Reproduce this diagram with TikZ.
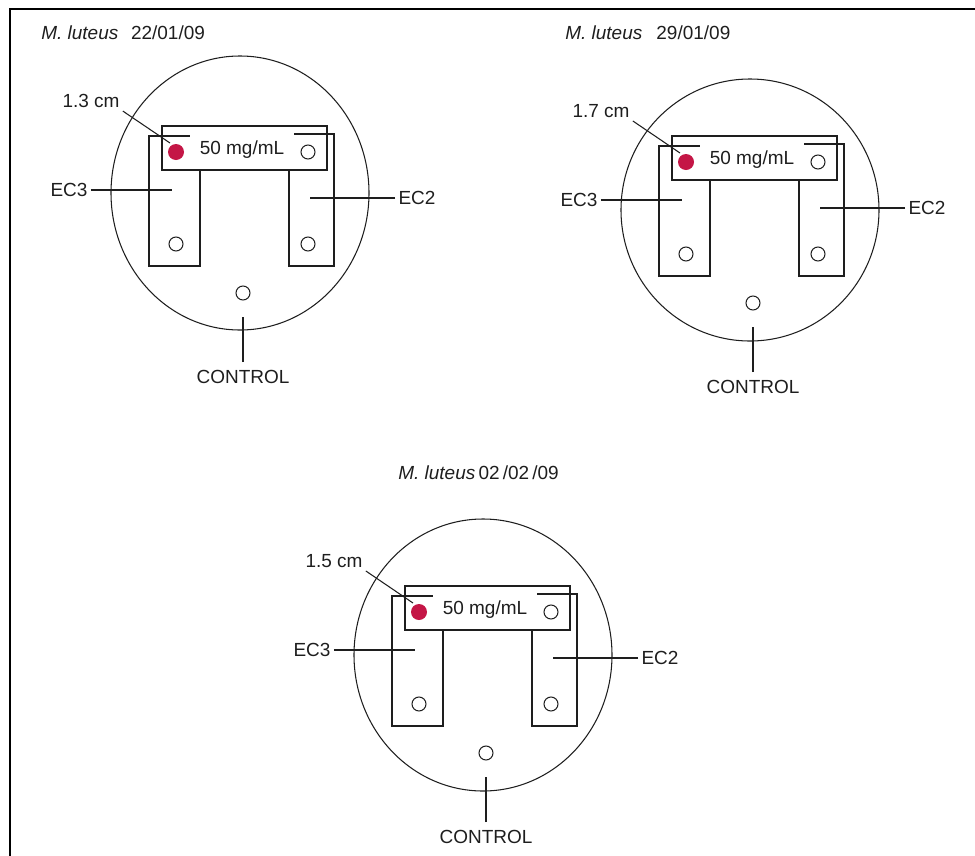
\documentclass[tikz,border=0pt]{standalone}
\usepackage{fontspec}
\setmainfont{Liberation Sans}
\usetikzlibrary{positioning,calc}
\definecolor{dotred}{RGB}{196, 22, 70}
\definecolor{inkgray}{RGB}{30, 30, 30}

\begin{document}
\begin{tikzpicture}[x=0.025cm, y=-0.025cm, line width=0.75pt, draw=inkgray,
    lbl/.style={text=inkgray, font=\fontsize{13.5}{16}\selectfont, inner sep=2pt},
    conc/.style={lbl, fill=white, minimum width=73.7pt, minimum height=28pt, inner sep=0pt}]
    \useasboundingbox (0,0) rectangle (975,856);
    \draw[line width=1.5pt, black] (10,856) -- (10,9) -- (975,9);
    % titles
    \node[lbl, anchor=west] (title1) at (38,33) {\textit{M. luteus}\hspace{9pt}22/01/09};
    \node[lbl, anchor=west] (title2) at (562,33) {\textit{M. luteus}\hspace{10pt}29/01/09};
    \node[lbl, anchor=west] (title3) at (395,473) {\textit{M. luteus}\,02\,/02\,/09};
    % plates: bar corner / circle centre y / circle y radius / zone
    \foreach \bx/\by/\cy/\ry/\zone in {162/126/67/137/1.3, 672/136/74/131/1.7, 405/586/69/136/1.5}{
        \begin{scope}[shift={(\bx,\by)}]
            \draw (-13,10) rectangle (38,140);
            \draw (127,8) rectangle (172,140);
            \node[conc] (conc) at (80,24) {50 mg/mL};
            \draw (0,0) rectangle (165,44);
            \fill[dotred] (14,26) circle[radius=8];
            \draw (146,26) circle[radius=7];
            \draw (14,118) circle[radius=7];
            \draw (146,118) circle[radius=7];
            \draw (81,167) circle[radius=7];
            \draw (78,\cy) ellipse[x radius=129, y radius=\ry];
            % labels
            \node[lbl] (zone) at (-71,-25) {\zone\ cm};
            \node[lbl] (ec3) at (-93,64) {EC3};
            \node[lbl] (ec2) at (255,72) {EC2};
            \node[lbl, inner ysep=5.5pt] (control) at (81,251) {CONTROL};
            \coordinate (zonept) at (8,17);
            \coordinate (ec3pt) at (10,64);
            \coordinate (ec2pt) at (148,72);
            \coordinate (ctlpt) at (81,191);
            \draw (zone.south east) -- (zonept);
            \draw (ec3.east) -- (ec3pt);
            \draw (ec2.west) -- (ec2pt);
            \draw (control.north) -- (ctlpt);
        \end{scope}
    }
\end{tikzpicture}
\end{document}
